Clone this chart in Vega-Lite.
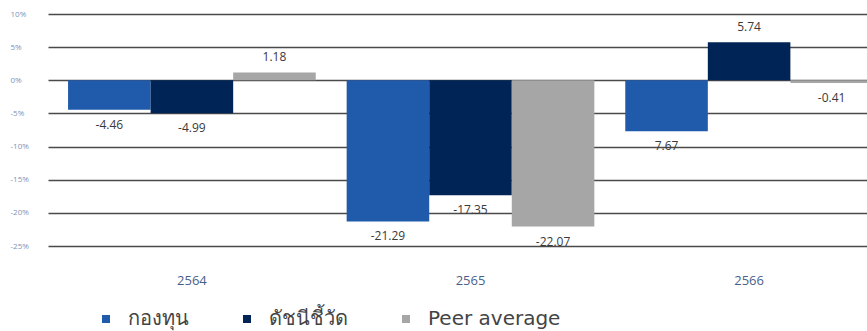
{
  "$schema": "https://vega.github.io/schema/vega-lite/v6.json",
  "width": 819,
  "height": 232,
  "autosize": {"type": "none"},
  "padding": {"left": 48, "top": 14, "right": 0, "bottom": 85},
  "background": "white",
  "config": {"view": {"stroke": null}, "font": "Open Sans"},
  "data": {
    "values": [
      {"year": "2564", "series": "กองทุน", "value": -4.46, "label": "-4.46"},
      {"year": "2564", "series": "ดัชนีชี้วัด", "value": -4.99, "label": "-4.99"},
      {"year": "2564", "series": "Peer average", "value": 1.18, "label": "1.18"},
      {"year": "2565", "series": "กองทุน", "value": -21.29, "label": "-21.29"},
      {"year": "2565", "series": "ดัชนีชี้วัด", "value": -17.35, "label": "-17.35"},
      {"year": "2565", "series": "Peer average", "value": -22.07, "label": "-22.07"},
      {"year": "2566", "series": "กองทุน", "value": -7.67, "label": "7.67"},
      {"year": "2566", "series": "ดัชนีชี้วัด", "value": 5.74, "label": "5.74"},
      {"year": "2566", "series": "Peer average", "value": -0.41, "label": "-0.41"}
    ]
  },
  "encoding": {
    "x": {
      "field": "year", "type": "nominal",
      "scale": {"range": [0, 845], "paddingInner": 0.111, "paddingOuter": 0.072},
      "axis": {
        "title": null, "domain": false, "ticks": false, "labelAngle": 0,
        "labelPadding": 28, "labelFontSize": 13, "labelColor": "#4a5f8a",
        "labelFont": "Open Sans"
      }
    },
    "xOffset": {
      "field": "series", "type": "nominal",
      "sort": ["กองทุน", "ดัชนีชี้วัด", "Peer average"],
      "scale": {"paddingInner": 0, "paddingOuter": 0}
    },
    "y": {
      "field": "value", "type": "quantitative",
      "scale": {"domain": [-25, 10], "nice": false, "zero": false},
      "axis": {
        "title": null, "domain": false, "ticks": false,
        "values": [-25, -20, -15, -10, -5, 0, 5, 10],
        "labelExpr": "datum.value + '%'",
        "labelAlign": "left", "labelPadding": 38,
        "labelFontSize": 8, "labelColor": "#7d93b8",
        "grid": true, "gridColor": "#4a4a4a", "gridWidth": 1.5
      }
    }
  },
  "layer": [
    {
      "mark": {"type": "bar", "clip": true},
      "encoding": {
        "color": {
          "field": "series", "type": "nominal",
          "sort": ["กองทุน", "ดัชนีชี้วัด", "Peer average"],
          "scale": {"domain": ["กองทุน", "ดัชนีชี้วัด", "Peer average"], "range": ["#1f5aab", "#002456", "#a6a6a6"]},
          "legend": {
            "title": null, "orient": "none", "direction": "horizontal",
            "legendX": 48, "legendY": 295,
            "symbolType": "square", "symbolSize": 64, "symbolStrokeWidth": 0,
            "labelFont": "DejaVu Sans",
            "labelFontSize": 20, "labelColor": "#444444", "labelOffset": 12,
            "columnPadding": 48, "labelLimit": 300
          }
        }
      }
    },
    {
      "transform": [{"filter": "datum.value < 0"}],
      "mark": {"type": "text", "fontSize": 12, "color": "#3a3a3a", "clip": true, "baseline": "middle", "dy": 15},
      "encoding": {"text": {"field": "label"}}
    },
    {
      "transform": [{"filter": "datum.value >= 0"}],
      "mark": {"type": "text", "fontSize": 12, "color": "#3a3a3a", "clip": true, "baseline": "middle", "dy": -15},
      "encoding": {"text": {"field": "label"}}
    }
  ]
}
